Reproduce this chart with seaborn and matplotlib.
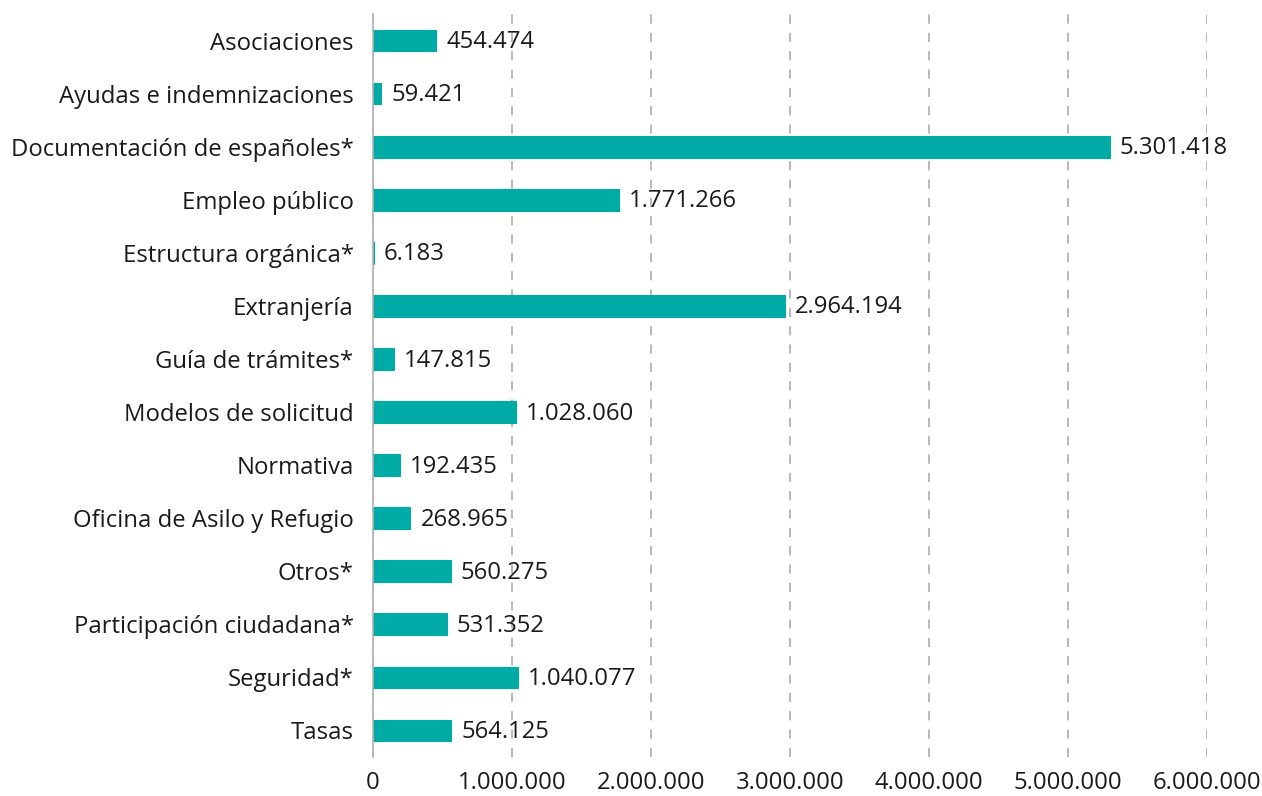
import matplotlib
matplotlib.use("Agg")
import matplotlib.pyplot as plt
import seaborn as sns
import pandas as pd
from matplotlib.ticker import FuncFormatter

categories = ["Asociaciones", "Ayudas e indemnizaciones", "Documentación de españoles*",
              "Empleo público", "Estructura orgánica*", "Extranjería", "Guía de trámites*",
              "Modelos de solicitud", "Normativa", "Oficina de Asilo y Refugio", "Otros*",
              "Participación ciudadana*", "Seguridad*", "Tasas"]
values = [454474, 59421, 5301418, 1771266, 6183, 2964194, 147815, 1028060, 192435,
          268965, 560275, 531352, 1040077, 564125]
xticks = [0, 1000000, 2000000, 3000000, 4000000, 5000000, 6000000]

def fmt(v):
    return f"{int(v):,}".replace(",", ".")

sns.set_theme(style="white")
plt.rcParams['font.family'] = ['Open Sans', 'DejaVu Sans']

FS = 17.2

df = pd.DataFrame({"cat": categories, "val": values})
fig = plt.figure(figsize=(12.62, 7.96), dpi=100)
ax = fig.add_axes([373/1262, 39/796, (1207-373)/1262, (757-14)/796])
sns.barplot(data=df, y="cat", x="val", color="#00ABA6", width=0.41, ax=ax, saturation=1,
            edgecolor="#00ABA6", linewidth=0.8)
ax.set_xlim(0, 6000000)
ax.set_ylim(13.5, -0.5)
ax.set_xticks(xticks)
ax.xaxis.set_major_formatter(FuncFormatter(lambda v, p: fmt(v)))
ax.set_xlabel("")
ax.set_ylabel("")
for s in ["top", "right", "bottom"]:
    ax.spines[s].set_visible(False)
ax.spines["left"].set_color("#b0b0b0")
ax.spines["left"].set_linewidth(1.2)
ax.grid(axis="x", linestyle=(0, (6, 6)), color="#a6a6a6", linewidth=1.1)
ax.set_axisbelow(True)
ax.tick_params(axis="both", length=0, labelsize=FS, colors="#1a1a1a")
ax.tick_params(axis="x", pad=10)
ax.tick_params(axis="y", pad=14)
for i, v in enumerate(values):
    ax.text(v + 72000, i + 0.03, fmt(v), va="center", ha="left", fontsize=FS, color="#1a1a1a")
fig.savefig("out.png", dpi=100)
